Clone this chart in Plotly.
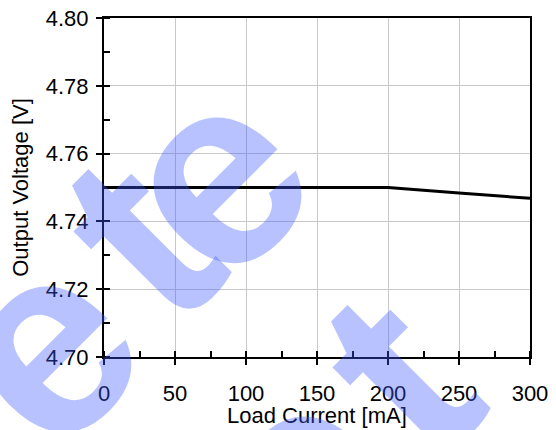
import plotly.graph_objects as go

# Data
load_current_ma = [0, 50, 100, 150, 200, 250, 300]
output_voltage_v = [4.750, 4.750, 4.750, 4.750, 4.750, 4.7484, 4.7468]

x_ticks = [0, 50, 100, 150, 200, 250, 300]
y_ticks = [4.70, 4.72, 4.74, 4.76, 4.78, 4.80]

FONT = "Arial, Liberation Sans, sans-serif"

fig = go.Figure()
fig.add_trace(go.Scatter(
    x=load_current_ma, y=output_voltage_v, mode="lines",
    line=dict(color="black", width=3), showlegend=False, hoverinfo="skip"))
# invisible trace for overlay axes (inner half of major ticks)
fig.add_trace(go.Scatter(x=[0], y=[4.70], xaxis="x2", yaxis="y2",
                         mode="markers", marker=dict(opacity=0),
                         showlegend=False, hoverinfo="skip"))

axis_common = dict(
    showline=True, linecolor="black", linewidth=2, mirror=True,
    showgrid=True, gridcolor="#c8c8c8", gridwidth=1,
    ticks="outside", ticklen=6, tickwidth=2, tickcolor="black",
    zeroline=False, automargin=False,
    tickfont=dict(family=FONT, size=22, color="black"),
)

fig.update_layout(
    width=556, height=430,
    margin=dict(l=104, r=26, t=18, b=73),
    paper_bgcolor="white", plot_bgcolor="white",
    xaxis=dict(
        range=[0, 300], tickvals=x_ticks,
        minor=dict(dtick=25, ticks="inside", ticklen=6, tickwidth=2,
                   tickcolor="black", showgrid=False),
        ticklabelstandoff=10,
        **axis_common),
    yaxis=dict(
        range=[4.70, 4.80], tickvals=y_ticks, tickformat=".2f",
        minor=dict(dtick=0.01, ticks="inside", ticklen=6, tickwidth=2,
                   tickcolor="black", showgrid=False),
        ticklabelstandoff=3,
        title=dict(text="Output Voltage [V]", standoff=11,
                   font=dict(family=FONT, size=22, color="black")),
        **axis_common),
    xaxis2=dict(overlaying="x", range=[0, 300], tickvals=x_ticks,
                ticks="inside", ticklen=6, tickwidth=2, tickcolor="black",
                showticklabels=False, showgrid=False, showline=False,
                zeroline=False, anchor="y2", side="bottom"),
    yaxis2=dict(overlaying="y", range=[4.70, 4.80], tickvals=y_ticks,
                ticks="inside", ticklen=6, tickwidth=2, tickcolor="black",
                showticklabels=False, showgrid=False, showline=False,
                zeroline=False, anchor="x2", side="left"),
)

# x-axis title
fig.add_annotation(
    text="Load Current [mA]", xref="paper", yref="paper", x=0.5, y=-0.174,
    xanchor="center", yanchor="middle", showarrow=False,
    font=dict(family=FONT, size=22, color="black"))

# watermark letters (diagonal, semi-transparent)
wm_color = "rgba(60,90,255,0.37)"
wm_letters = [("e", -0.151, 0.037), ("t", 0.080, 0.354), ("e", 0.248, 0.536),
              ("e", 0.452, -0.346), ("t", 0.688, -0.047)]
for txt, xp, yp in wm_letters:
    fig.add_annotation(
        text=txt, xref="paper", yref="paper", x=xp, y=yp,
        xanchor="center", yanchor="middle", showarrow=False,
        textangle=-45,
        font=dict(family="Liberation Sans", size=270, color=wm_color,
                  weight="bold"))

fig.write_html("out.html", config={"displayModeBar": False, "staticPlot": True},
               post_script="document.body.style.margin='0';")
